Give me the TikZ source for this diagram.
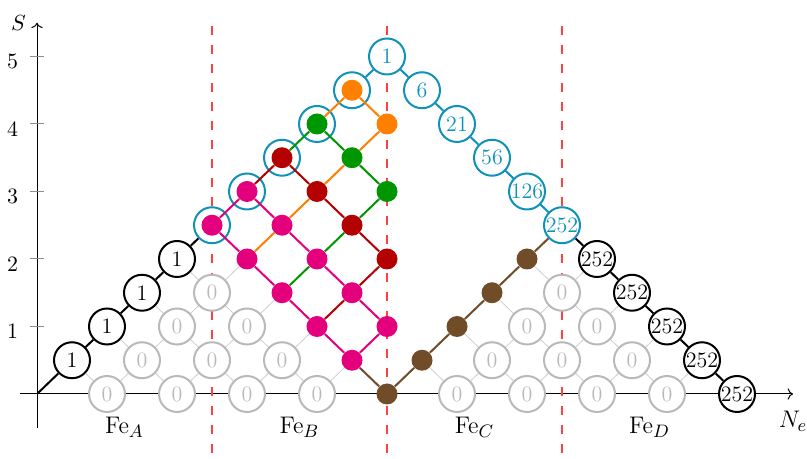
\documentclass[tikz,border=0pt]{standalone}
\usetikzlibrary{arrows.meta}

\definecolor{cmag}{RGB}{228,0,124}
\definecolor{cdred}{RGB}{180,0,0}
\definecolor{cgreen}{RGB}{0,150,0}
\definecolor{corange}{RGB}{255,128,0}
\definecolor{cbrown}{RGB}{112,76,40}
\definecolor{ccyan}{RGB}{16,145,185}
\definecolor{cred}{RGB}{255,64,64}
\definecolor{czero}{RGB}{185,185,185}
\definecolor{clatt}{RGB}{205,205,205}
\definecolor{ctick}{RGB}{140,140,140}

\tikzset{
  every node/.style={font=\fontsize{11pt}{13pt}\selectfont},
  biglabel/.style={font=\fontsize{12.5pt}{15pt}\selectfont},
  zc/.style={circle, draw=czero, fill=white, line width=1pt, minimum size=18pt,
             inner sep=0pt, text=czero},
  oc/.style={circle, draw=black, fill=white, line width=1pt, minimum size=18pt,
             inner sep=0pt},
  cc/.style={circle, draw=ccyan, fill=white, line width=1pt, minimum size=18pt,
             inner sep=0pt, text=ccyan},
  ball/.style={circle, fill=#1, inner sep=0pt, minimum size=10.5pt},
  latt/.style={draw=clatt, line width=0.4pt},
  bnd/.style={line width=1pt, line join=round},
  sep/.style={draw=cred, line width=1pt, dash pattern=on 4.5pt off 5pt},
}

\begin{document}
\begin{tikzpicture}[x=17.5pt, y=33.75pt]
\useasboundingbox (-18.5pt,-32.5pt) rectangle (385pt,197pt);

% axes and ticks
\coordinate (o) at (0,0);
\coordinate (xend) at (21.6,0);
\coordinate (yend) at (0,5.5);
\draw[line width=0.5pt, ->] (-0.5,0) -- (xend);
\draw[line width=0.5pt, ->] (0,-0.5) -- (yend);
\node[biglabel, below=5.2pt] (xl) at (xend) {$N_e$};
\node (yl) at (-0.53,5.5) {$S$};
\foreach \s in {1,...,5} {
  \draw[ctick, line width=0.5pt] (-0.2,\s) -- (0.2,\s);
  \node[yshift=-2.5pt] (tk-\s) at (-0.7,\s) {$\s$};
}

% region separators
\foreach \x in {5,10,15}
  \draw[sep] (\x,5.45) -- (\x,-1);

% region labels
\node[biglabel, anchor=base] (fa) at (2.5,-0.578) {$\mathrm{Fe}_A$};
\node[biglabel, anchor=base] (fb) at (7.5,-0.578) {$\mathrm{Fe}_B$};
\node[biglabel, anchor=base] (fc) at (12.5,-0.578) {$\mathrm{Fe}_C$};
\node[biglabel, anchor=base] (fd) at (17.5,-0.578) {$\mathrm{Fe}_D$};

% lattice points: index i = N_e, index j = 2S
\coordinate (p-0-0) at (0,0);
\foreach \i/\j in {2/0,4/0,6/0,8/0,3/1,5/1,7/1,4/2,6/2,5/3,
                   12/0,14/0,16/0,18/0,13/1,15/1,17/1,14/2,16/2,15/3}
  \node[zc] (p-\i-\j) at (\i,\j/2) {0};
\foreach \i/\j in {1/1,2/2,3/3,4/4}
  \node[oc] (p-\i-\j) at (\i,\j/2) {1};
\foreach \i/\j in {16/4,17/3,18/2,19/1,20/0}
  \node[oc] (p-\i-\j) at (\i,\j/2) {252};
\foreach \i/\j in {5/5,6/6,7/7,8/8,9/9}
  \node[cc] (p-\i-\j) at (\i,\j/2) {};
\foreach \i/\j/\l in {10/10/1,11/9/6,12/8/21,13/7/56,14/6/126,15/5/252}
  \node[cc] (p-\i-\j) at (\i,\j/2) {\l};

% filled states inside the top-left circles
\foreach \i/\j/\c in {5/5/cmag,6/6/cmag,7/7/cdred,8/8/cgreen,9/9/corange}
  \node[ball=\c] (d-\i-\j) at (\i,\j/2) {};
% filled states elsewhere
\foreach \i/\j/\c in {6/4/cmag,7/5/cmag,7/3/cmag,8/4/cmag,8/2/cmag,9/3/cmag,
                      9/1/cmag,10/2/cmag,8/6/cdred,9/5/cdred,10/4/cdred,
                      9/7/cgreen,10/6/cgreen,10/8/corange,
                      10/0/cbrown,11/1/cbrown,12/2/cbrown,13/3/cbrown,14/4/cbrown}
  \node[ball=\c, alias=p-\i-\j] (d-\i-\j) at (\i,\j/2) {};

% light lattice, left triangle
\foreach \i in {0,...,9} {
  \foreach \j in {0,...,\i} {
    \pgfmathtruncatemacro\pp{mod(\i+\j,2)}
    \ifnum\pp=0
      \pgfmathtruncatemacro\ni{\i+1}
      \pgfmathtruncatemacro\ju{\j+1}
      \pgfmathtruncatemacro\jd{\j-1}
      \draw[latt] (p-\i-\j) -- (p-\ni-\ju);
      \ifnum\j>0 \draw[latt] (p-\i-\j) -- (p-\ni-\jd);\fi
    \fi
  }
}
% light lattice, right triangle
\foreach \i in {10,...,19} {
  \pgfmathtruncatemacro\mx{min(\i-10,20-\i)}
  \pgfmathtruncatemacro\mxn{min(\i-9,19-\i)}
  \foreach \j in {0,...,\mx} {
    \pgfmathtruncatemacro\pp{mod(\i+\j,2)}
    \ifnum\pp=0
      \pgfmathtruncatemacro\ni{\i+1}
      \pgfmathtruncatemacro\ju{\j+1}
      \pgfmathtruncatemacro\jd{\j-1}
      \ifnum\ju>\mxn\else \draw[latt] (p-\i-\j) -- (p-\ni-\ju);\fi
      \ifnum\j>0 \draw[latt] (p-\i-\j) -- (p-\ni-\jd);\fi
    \fi
  }
}

% outer boundary
\draw[bnd] (p-0-0) -- (p-1-1) -- (p-2-2) -- (p-3-3) -- (p-4-4) -- (p-5-5);
\draw[bnd, ccyan] (p-9-9) -- (p-10-10) -- (p-11-9) -- (p-12-8) -- (p-13-7)
  -- (p-14-6) -- (p-15-5);
\draw[bnd] (p-15-5) -- (p-16-4) -- (p-17-3) -- (p-18-2) -- (p-19-1) -- (p-20-0);

% coloured paths
\draw[bnd, cbrown] (d-9-1) -- (d-10-0) -- (d-11-1) -- (d-12-2) -- (d-13-3)
  -- (d-14-4) -- (p-15-5);
\draw[bnd, corange] (d-8-8) -- (d-9-9) -- (d-10-8) -- (d-9-7) -- (d-8-6)
  -- (d-7-5) -- (d-6-4);
\draw[bnd, cgreen] (d-7-7) -- (d-8-8) -- (d-9-7) -- (d-10-6) -- (d-9-5)
  -- (d-8-4) -- (d-7-3);
\draw[bnd, cdred] (d-6-6) -- (d-7-7) -- (d-8-6) -- (d-9-5) -- (d-10-4)
  -- (d-9-3) -- (d-8-2);
\draw[bnd, cmag] (d-5-5) -- (d-6-6) -- (d-7-5) -- (d-8-4) -- (d-9-3) -- (d-10-2)
  -- (d-9-1) -- (d-8-2) -- (d-7-3) -- (d-6-4) -- (d-5-5);
\end{tikzpicture}
\end{document}
